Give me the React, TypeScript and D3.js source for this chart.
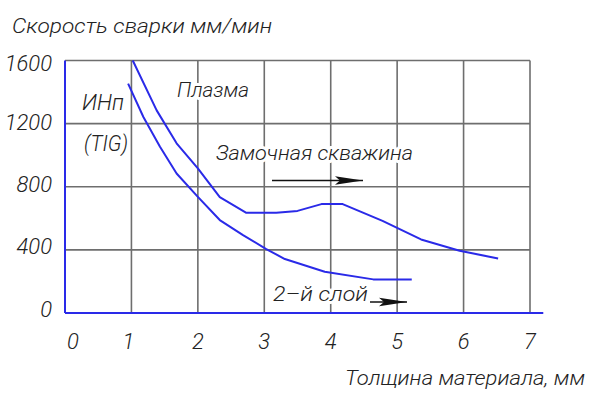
import React from "react";
import * as d3 from "d3";

const xTicks = [0, 1, 2, 3, 4, 5, 6, 7];
const yTicks = [0, 400, 800, 1200, 1600];

const plasmaX = [1.02, 1.38, 1.68, 2.0, 2.33, 2.73, 3.18, 3.5, 3.86, 4.18, 4.78, 5.36, 5.94, 6.52];
const plasmaY = [1600, 1284, 1075, 917, 734, 635, 635, 647, 690, 690, 584, 466, 394, 346];

const tigX = [0.95, 1.18, 1.43, 1.68, 2.0, 2.33, 2.68, 3.03, 3.31, 3.91, 4.64, 5.22];
const tigY = [1453, 1242, 1053, 884, 736, 589, 494, 405, 342, 261, 213, 213];

const W = 600;
const H = 394;

const FONT = "'Roboto', 'Open Sans', 'DejaVu Sans', sans-serif";

export default function App() {
  const x = d3.scaleLinear().domain([0, 7]).range([65, 530]);
  const y = d3.scaleLinear().domain([0, 1600]).range([313, 60.5]);

  const line = d3
    .line<[number, number]>()
    .x((d) => x(d[0]))
    .y((d) => y(d[1]))
    .curve(d3.curveLinear);

  const plasma = plasmaX.map((v, i) => [v, plasmaY[i]] as [number, number]);
  const tig = tigX.map((v, i) => [v, tigY[i]] as [number, number]);

  const textStyle: React.CSSProperties = {
    fontFamily: FONT,
    fontStyle: "italic",
    fontWeight: 300,
    fill: "#222",
  };
  const haloStyle: React.CSSProperties = {
    ...textStyle,
    stroke: "#fff",
    strokeWidth: 6,
    paintOrder: "stroke",
    strokeLinejoin: "round",
  };

  const grid = "#6e6e6e";
  const blue = "#2a2ae8";

  return (
    <svg
      width={W}
      height={H}
      style={{ position: "absolute", left: 0, top: 0, background: "#fff" }}
    >
      <defs>
        <marker
          id="arr"
          viewBox="0 0 28 10"
          refX="28"
          refY="5"
          markerWidth="28"
          markerHeight="10"
          markerUnits="userSpaceOnUse"
          orient="auto"
        >
          <path d="M0,0.8 L28,5 L0,9.2 L5,5 Z" fill="#111" />
        </marker>
      </defs>
      <rect width={W} height={H} fill="#fff" />

      {/* grid */}
      {yTicks
        .filter((v) => v > 0)
        .map((v) => (
          <line
            key={"gy" + v}
            x1={x(0)}
            x2={x(7)}
            y1={y(v)}
            y2={y(v)}
            stroke={grid}
            strokeWidth={1.6}
          />
        ))}
      {xTicks
        .filter((v) => v > 0)
        .map((v) => (
          <line
            key={"gx" + v}
            x1={x(v)}
            x2={x(v)}
            y1={y(1600)}
            y2={y(0)}
            stroke={grid}
            strokeWidth={1.6}
          />
        ))}

      {/* axes */}
      <line x1={x(0)} x2={x(0)} y1={y(1600)} y2={y(0)} stroke={blue} strokeWidth={2} />
      <line x1={x(0)} x2={x(7.2)} y1={y(0)} y2={y(0)} stroke={blue} strokeWidth={2} />

      {/* labels with white halo (cover grid) */}
      <text x={82} y={110} fontSize={22} style={haloStyle} textLength={42} lengthAdjust="spacingAndGlyphs">
        ИНп
      </text>
      <text x={84} y={151} fontSize={22} style={haloStyle} textLength={44} lengthAdjust="spacingAndGlyphs">
        (TIG)
      </text>
      <text x={177} y={97} fontSize={21} style={haloStyle} textLength={72} lengthAdjust="spacingAndGlyphs">
        Плазма
      </text>
      <text x={216} y={160} fontSize={21} style={haloStyle} textLength={197} lengthAdjust="spacingAndGlyphs">
        Замочная скважина
      </text>
      <text x={273} y={301} fontSize={21} style={haloStyle} textLength={95} lengthAdjust="spacingAndGlyphs">
        2–й слой
      </text>

      {/* arrows */}
      <line x1={272} x2={363} y1={180.5} y2={180.5} stroke="#111" strokeWidth={1.3} markerEnd="url(#arr)" />
      <line x1={370} x2={407} y1={302} y2={302} stroke="#111" strokeWidth={1.3} markerEnd="url(#arr)" />

      {/* curves */}
      <path d={line(plasma) || ""} fill="none" stroke={blue} strokeWidth={2} strokeLinejoin="round" />
      <path d={line(tig) || ""} fill="none" stroke={blue} strokeWidth={2} strokeLinejoin="round" />

      {/* y tick labels */}
      {yTicks.map((v) => (
        <text
          key={"yl" + v}
          x={52}
          y={y(v) + 7 + (1600 - v) * -0.002 + (v === 1600 ? 3 : 0)}
          fontSize={22}
          textAnchor="end"
          style={textStyle}
        >
          {v}
        </text>
      ))}

      {/* x tick labels */}
      {xTicks.map((v) => (
        <text
          key={"xl" + v}
          x={x(v) + (v === 0 ? 8 : v === 1 ? -3 : 0)}
          y={349}
          fontSize={22}
          textAnchor="middle"
          style={textStyle}
        >
          {v}
        </text>
      ))}

      {/* axis titles */}
      <text x={12} y={33} fontSize={21} style={textStyle} textLength={260} lengthAdjust="spacingAndGlyphs">
        Скорость сварки мм/мин
      </text>
      <text x={345} y={385} fontSize={21} style={textStyle} textLength={240} lengthAdjust="spacingAndGlyphs">
        Толщина материала, мм
      </text>
    </svg>
  );
}
